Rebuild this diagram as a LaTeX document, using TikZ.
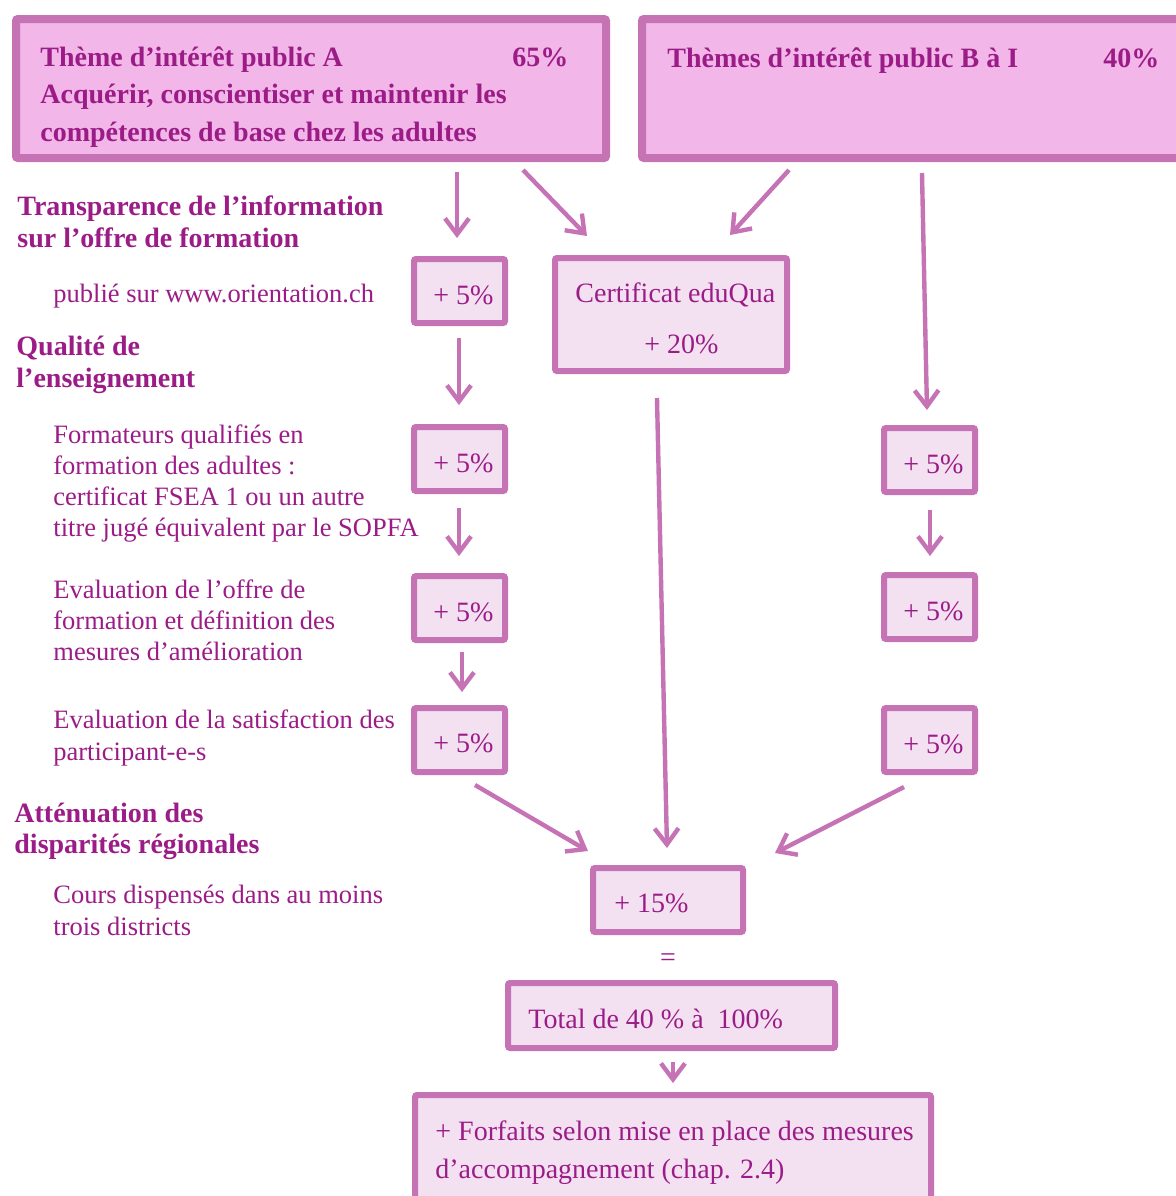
\documentclass[tikz,border=0pt]{standalone}
\usepackage{fontspec}
\setmainfont{Liberation Serif}
\usetikzlibrary{arrows.meta,fit}
\definecolor{bordc}{HTML}{C673B6}
\definecolor{topfill}{HTML}{F2B6E8}
\definecolor{boxfill}{HTML}{F3E1F1}
\definecolor{txtc}{HTML}{9C1C87}
\begin{document}
\begin{tikzpicture}[x=0.5pt,y=-0.5pt,
  topbox/.style={draw=bordc,fill=topfill,line width=4pt,inner sep=0pt,rounded corners=1pt},
  smallbox/.style={draw=bordc,fill=boxfill,line width=3pt,inner sep=0pt,rounded corners=1pt},
  boxtxt/.style={text=txtc,font=\fontsize{14}{19}\selectfont,inner sep=0pt},
  hdr/.style={text=txtc,font=\fontsize{14}{19}\selectfont\bfseries,inner sep=0pt,anchor=base west},
  lbl/.style={text=txtc,font=\fontsize{13.25}{15.5}\selectfont,inner sep=0pt,anchor=base west},
  btx/.style={text=txtc,font=\fontsize{14}{19}\selectfont,inner sep=0pt,anchor=base west},
  arr/.style={draw=bordc,line width=2.2pt,-{Straight Barb[length=8pt,width=12pt,line width=2.2pt]}}
]
\useasboundingbox (0,0) rectangle (1176,1196);
% top boxes
\node[topbox,fit={(16,19)(606,158)}] (A) {};
\node[topbox,fit={(642,19)(1210,158)}] (B) {};
\node[hdr] (A1) at (40,66) {Thème d’intérêt public A};
\node[hdr] (A2) at (512,66) {65\%};
\node[hdr] (A3) at (40,103) {Acquérir, conscientiser et maintenir les};
\node[hdr] (A4) at (40,141) {compétences de base chez les adultes};
\node[hdr] (B1) at (667,67) {Thèmes d’intérêt public B à I};
\node[hdr] (B2) at (1103,67) {40\%};
% small boxes
\node[smallbox,fit={(414,259)(505,323)}] (t1) {};
\node[smallbox,fit={(555,258)(787,371)}] (edu) {};
\node[smallbox,fit={(414,427)(505,491)}] (t2) {};
\node[smallbox,fit={(414,576)(505,640)}] (t3) {};
\node[smallbox,fit={(414,708)(505,772)}] (t4) {};
\node[smallbox,fit={(884,428)(975,492)}] (r1) {};
\node[smallbox,fit={(884,575)(975,639)}] (r2) {};
\node[smallbox,fit={(884,708)(975,772)}] (r3) {};
\node[smallbox,fit={(593,868)(743,932)}] (p15) {};
\node[smallbox,fit={(508,983)(835,1048)}] (tot) {};
\node[smallbox,fit={(415,1095)(931,1215)}] (forf) {};
% box texts
\node[btx] (t1x) at (433,304) {+ 5\%};
\node[btx] (t2x) at (433,472) {+ 5\%};
\node[btx] (t3x) at (433,621) {+ 5\%};
\node[btx] (t4x) at (433,752) {+ 5\%};
\node[btx] (r1x) at (903,473) {+ 5\%};
\node[btx] (r2x) at (903,620) {+ 5\%};
\node[btx] (r3x) at (903,753) {+ 5\%};
\node[btx] (edu1) at (575,302) {Certificat eduQua};
\node[btx] (edu2) at (644,353) {+ 20\%};
\node[btx] (p15x) at (614,912) {+ 15\%};
\node[boxtxt] (eq) at (668,960) {=};
\node[btx] (totx) at (528,1028) {Total de 40 \% à~ 100\%};
\node[btx] (f1) at (435,1140) {+ Forfaits selon mise en place des mesures};
\node[btx] (f2) at (435,1178) {d’accompagnement (chap. 2.4)};
% left texts
\node[hdr] (h1) at (17,215) {Transparence de l’information};
\node[hdr] (h2) at (17,247) {sur l’offre de formation};
\node[lbl] (l1) at (53,302) {publié sur www.orientation.ch};
\node[hdr] (h3) at (16,355) {Qualité de};
\node[hdr] (h4) at (16,387) {l’enseignement};
\node[lbl] (l2) at (53,443) {Formateurs qualifiés en};
\node[lbl] (l3) at (53,474) {formation des adultes :};
\node[lbl] (l4) at (53,505) {certificat FSEA 1 ou un autre};
\node[lbl] (l5) at (53,536) {titre jugé équivalent par le SOPFA};
\node[lbl] (l6) at (53,598) {Evaluation de l’offre de};
\node[lbl] (l7) at (53,629) {formation et définition des};
\node[lbl] (l8) at (53,660) {mesures d’amélioration};
\node[lbl] (l9) at (53,728) {Evaluation de la satisfaction des};
\node[lbl] (l10) at (53,760) {participant-e-s};
\node[hdr] (h5) at (14,822) {Atténuation des};
\node[hdr] (h6) at (14,853) {disparités régionales};
\node[lbl] (l11) at (53,903) {Cours dispensés dans au moins};
\node[lbl] (l12) at (53,935) {trois districts};
% arrow end coordinates
\coordinate (a1s) at (457,172); \coordinate (a1e) at (457,238);
\coordinate (a2s) at (523,170); \coordinate (a2e) at (587,236);
\coordinate (a3s) at (789,170); \coordinate (a3e) at (730,235);
\coordinate (a4s) at (922,173); \coordinate (a4e) at (927,410);
\coordinate (a5s) at (459,338); \coordinate (a5e) at (459,405);
\coordinate (a6s) at (657,398); \coordinate (a6e) at (667,848);
\coordinate (a7s) at (459,508); \coordinate (a7e) at (459,556);
\coordinate (a8s) at (930,510); \coordinate (a8e) at (930,556);
\coordinate (a9s) at (462,652); \coordinate (a9e) at (462,692);
\coordinate (a10s) at (475,785); \coordinate (a10e) at (588,851);
\coordinate (a11s) at (904,787); \coordinate (a11e) at (775,853);
\coordinate (a12s) at (673,1062); \coordinate (a12e) at (673,1083);
\foreach \i in {1,...,12} \draw[arr] (a\i s) -- (a\i e);
\end{tikzpicture}
\end{document}
